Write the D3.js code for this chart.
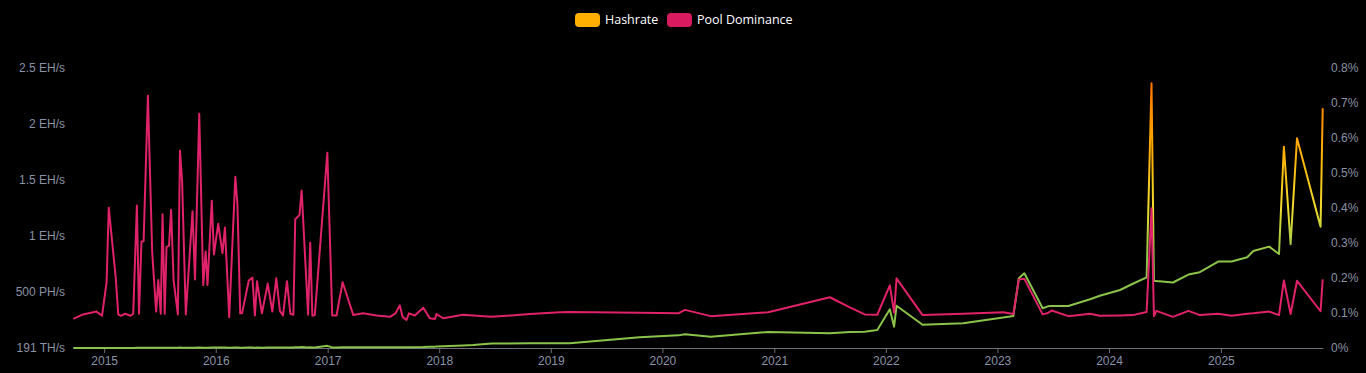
<!DOCTYPE html>
<html>
<head>
<meta charset="utf-8">
<script src="https://cdn.jsdelivr.net/npm/d3@7"></script>
<style>
  html, body { margin: 0; padding: 0; background: #000; }
  svg { display: block; font-family: "Open Sans", "Noto Sans", sans-serif; }
</style>
</head>
<body>
<div id="chart"></div>
<script>
// Data
const dates = [
  '2014-09-22', '2014-10-24', '2014-12-07', '2014-12-25', '2015-01-09', '2015-01-16', '2015-02-08', '2015-02-16',
  '2015-02-25', '2015-03-10', '2015-03-28', '2015-04-06', '2015-04-18', '2015-04-25', '2015-05-03', '2015-05-10',
  '2015-05-24', '2015-06-07', '2015-06-20', '2015-06-27', '2015-07-05', '2015-07-11', '2015-07-18', '2015-07-24',
  '2015-08-01', '2015-08-08', '2015-08-16', '2015-08-30', '2015-09-06', '2015-09-13', '2015-09-25', '2015-10-17',
  '2015-10-25', '2015-11-08', '2015-11-21', '2015-11-29', '2015-12-05', '2015-12-19', '2015-12-26', '2016-01-09',
  '2016-01-23', '2016-01-31', '2016-02-14', '2016-03-05', '2016-03-12', '2016-03-21', '2016-03-27', '2016-04-18',
  '2016-04-30', '2016-05-08', '2016-05-15', '2016-05-31', '2016-06-19', '2016-07-04', '2016-07-17', '2016-07-29',
  '2016-08-08', '2016-08-21', '2016-09-01', '2016-09-11', '2016-09-17', '2016-10-01', '2016-10-08', '2016-10-29',
  '2016-11-05', '2016-11-12', '2016-11-20', '2016-12-31', '2017-01-16', '2017-01-30', '2017-02-19', '2017-03-26',
  '2017-04-27', '2017-06-10', '2017-07-24', '2017-08-11', '2017-08-25', '2017-09-03', '2017-09-16', '2017-09-24',
  '2017-10-13', '2017-11-10', '2017-12-01', '2017-12-18', '2017-12-23', '2018-01-14', '2018-03-20', '2018-04-22',
  '2018-06-21', '2018-10-25', '2019-01-31', '2019-03-04', '2019-10-19', '2020-02-22', '2020-03-15', '2020-06-07',
  '2020-12-12', '2021-07-02', '2021-09-05', '2021-10-24', '2021-12-04', '2022-01-14', '2022-01-28', '2022-02-05',
  '2022-05-01', '2022-09-11', '2023-01-20', '2023-02-22', '2023-03-12', '2023-03-30', '2023-05-29', '2023-06-15',
  '2023-06-27', '2023-08-21', '2023-10-31', '2023-12-02', '2024-02-06', '2024-03-19', '2024-05-03', '2024-05-19',
  '2024-05-27', '2024-06-04', '2024-07-28', '2024-09-17', '2024-10-24', '2024-12-23', '2025-02-05', '2025-03-28',
  '2025-04-17', '2025-06-08', '2025-07-10', '2025-07-26', '2025-08-17', '2025-09-07', '2025-11-23', '2025-11-30'
];

// PH/s
const hashrate = [
  0.191, 0.42, 0.55, 0.61, 0.74, 0.9, 0.83, 0.96,
  1.1, 1.05, 1.3, 1.22, 1.6, 1.4, 1.9, 1.7,
  2.6, 2.1, 1.8, 2.3, 1.9, 2.8, 2.0, 2.5,
  2.6, 3.1, 2.4, 2.2, 3.6, 3.3, 2.5, 3.4,
  2.9, 4.2, 3.0, 3.5, 3.1, 4.0, 3.6, 3.9,
  3.7, 4.1, 2.9, 4.6, 4.3, 3.2, 3.3, 3.9,
  4.0, 3.4, 4.1, 3.5, 4.3, 3.7, 4.6, 3.8,
  3.6, 4.8, 4.0, 4.1, 7.2, 7.6, 8.9, 4.5,
  6.8, 4.6, 4.8, 19.5, 5.4, 5.6, 7.9, 5.8,
  6.1, 6.0, 6.3, 6.7, 7.4, 6.5, 6.2, 7.0,
  7.3, 8.6, 11.6, 12.4, 14.1, 15.8, 22, 27,
  40, 43, 42, 42, 96, 113, 122, 101,
  143, 131, 143, 146, 161, 346, 190, 378,
  208, 221, 272, 286, 622, 667, 355, 372,
  375, 375, 435, 467, 518, 574, 631, 2364,
  601, 598, 585, 656, 677, 772, 772, 810,
  866, 905, 839, 1798, 927, 1873, 1083, 2141
];

// %
const dominance = [
  0.083, 0.096, 0.104, 0.092, 0.189, 0.401, 0.199, 0.096,
  0.092, 0.098, 0.092, 0.098, 0.407, 0.098, 0.304, 0.305,
  0.721, 0.275, 0.104, 0.194, 0.098, 0.382, 0.098, 0.289,
  0.292, 0.395, 0.194, 0.096, 0.564, 0.475, 0.096, 0.391,
  0.196, 0.669, 0.180, 0.276, 0.180, 0.421, 0.267, 0.355,
  0.271, 0.344, 0.088, 0.489, 0.409, 0.099, 0.099, 0.193,
  0.201, 0.093, 0.191, 0.099, 0.184, 0.104, 0.199, 0.106,
  0.093, 0.191, 0.098, 0.095, 0.368, 0.380, 0.450, 0.095,
  0.301, 0.092, 0.094, 0.558, 0.093, 0.093, 0.188, 0.094,
  0.099, 0.093, 0.089, 0.099, 0.122, 0.089, 0.080, 0.099,
  0.093, 0.115, 0.085, 0.083, 0.097, 0.085, 0.095, 0.093,
  0.089, 0.097, 0.102, 0.103, 0.101, 0.099, 0.109, 0.091,
  0.102, 0.145, 0.116, 0.096, 0.095, 0.179, 0.101, 0.199,
  0.094, 0.098, 0.102, 0.097, 0.196, 0.198, 0.096, 0.100,
  0.107, 0.091, 0.098, 0.092, 0.093, 0.094, 0.103, 0.399,
  0.091, 0.106, 0.089, 0.106, 0.094, 0.098, 0.092, 0.098,
  0.099, 0.104, 0.094, 0.193, 0.097, 0.192, 0.105, 0.196
];

const hash_ticks = [0.191, 500, 1000, 1500, 2000, 2500];
const hash_tick_labels = ['191 TH/s', '500 PH/s', '1 EH/s', '1.5 EH/s', '2 EH/s', '2.5 EH/s'];
const dom_ticks = [0, 0.1, 0.2, 0.3, 0.4, 0.5, 0.6, 0.7, 0.8];
const series_names = ['Hashrate', 'Pool Dominance'];

const chart_width = 1366;
const chart_height = 373;
const axis_color = '#6e7079';
const label_color = '#8a93a5';
const pink = '#e0226a';

const parse = d3.timeParse('%Y-%m-%d');
const rows = dates.map((d, i) => ({date: parse(d), hash: hashrate[i], dom: dominance[i]}));

// Scales
const x_scale = d3.scaleTime()
    .domain(d3.extent(rows, d => d.date))
    .range([73.3, 1322.7]);

const y_hash = d3.scaleLinear()
    .domain([hash_ticks[0], hash_ticks[hash_ticks.length - 1]])
    .range([348, 68]);

const y_dom = d3.scaleLinear()
    .domain([0, 0.8])
    .range([348, 68]);

// SVG
const svg = d3.select('#chart')
    .append('svg')
    .attr('width', chart_width)
    .attr('height', chart_height);

// Gradient for hashrate by value
const grad_stops = [
  {v: 0, c: '#8bc34a'},
  {v: 820, c: '#8bc34a'},
  {v: 1250, c: '#f2dc2e'},
  {v: 1850, c: '#ffa600'},
  {v: 2450, c: '#ff6a00'}
];
const grad = svg.append('defs').append('linearGradient')
    .attr('id', 'hash-grad')
    .attr('gradientUnits', 'userSpaceOnUse')
    .attr('x1', 0).attr('x2', 0)
    .attr('y1', y_hash(0)).attr('y2', y_hash(2500));
grad.selectAll('stop')
    .data(grad_stops)
    .enter().append('stop')
    .attr('offset', d => d.v / 2500)
    .attr('stop-color', d => d.c);

// Axes
const x_axis = d3.axisBottom(x_scale)
    .ticks(d3.timeYear.every(1))
    .tickFormat(d3.timeFormat('%Y'))
    .tickSize(5)
    .tickSizeOuter(0);

const gx = svg.append('g')
    .attr('transform', 'translate(0,348)')
    .call(x_axis);
gx.select('.domain').attr('stroke', axis_color);
gx.selectAll('.tick line').attr('stroke', axis_color);
gx.selectAll('.tick text')
    .attr('fill', label_color)
    .attr('font-size', 12)
    .attr('dy', '0.95em')
    .attr('y', 6);

const gl = svg.append('g')
    .attr('transform', 'translate(65,0)')
    .call(d3.axisLeft(y_hash)
        .tickValues(hash_ticks)
        .tickFormat((d, i) => hash_tick_labels[i])
        .tickSize(0));
gl.select('.domain').remove();
gl.selectAll('.tick text')
    .attr('fill', label_color)
    .attr('font-size', 12)
    .attr('x', 0);

const gr = svg.append('g')
    .attr('transform', 'translate(1331,0)')
    .call(d3.axisRight(y_dom)
        .tickValues(dom_ticks)
        .tickFormat(d => d3.format('.1~f')(d) + '%')
        .tickSize(0));
gr.select('.domain').remove();
gr.selectAll('.tick text')
    .attr('fill', label_color)
    .attr('font-size', 12)
    .attr('x', 0);

// Lines
const hash_line = d3.line()
    .x(d => x_scale(d.date))
    .y(d => y_hash(d.hash));

const dom_line = d3.line()
    .x(d => x_scale(d.date))
    .y(d => y_dom(d.dom));

svg.append('path')
    .datum(rows)
    .attr('fill', 'none')
    .attr('stroke', 'url(#hash-grad)')
    .attr('stroke-width', 2)
    .attr('stroke-linejoin', 'round')
    .attr('d', hash_line);

svg.append('path')
    .datum(rows)
    .attr('fill', 'none')
    .attr('stroke', pink)
    .attr('stroke-width', 2)
    .attr('stroke-linejoin', 'round')
    .attr('d', dom_line);

// Legend
const legend_colors = ['#ffb000', '#d81b60'];
const legend_x = [575, 667];
const legend = svg.append('g');
series_names.forEach((name, i) => {
  legend.append('rect')
      .attr('x', legend_x[i])
      .attr('y', 13)
      .attr('width', 25)
      .attr('height', 14)
      .attr('rx', 4)
      .attr('fill', legend_colors[i]);
  legend.append('text')
      .attr('x', legend_x[i] + 30)
      .attr('y', 20)
      .attr('dy', '0.35em')
      .attr('fill', '#fff')
      .attr('font-size', 12.5)
      .text(name);
});
</script>
</body>
</html>
